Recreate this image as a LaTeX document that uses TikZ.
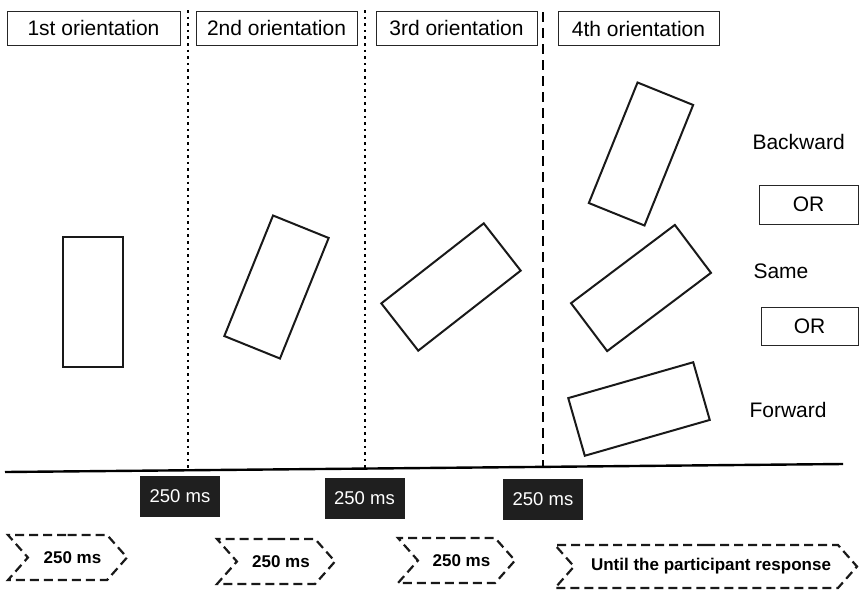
\documentclass[tikz,border=0pt]{standalone}
\usepackage{fontspec}
\setmainfont{Liberation Sans}
\usetikzlibrary{shapes.symbols}

\begin{document}
\begin{tikzpicture}[x=1pt,y=-1pt,
  orient/.style={draw=black!85,line width=1pt,minimum width=161,minimum height=34,inner sep=0pt,font=\fontsize{21}{24}\selectfont},
  stim/.style={draw=black!90,line width=2pt,minimum width=60,minimum height=130,inner sep=0pt},
  blackms/.style={fill=black!88,text=white,minimum width=80,minimum height=41,inner sep=0pt,font=\fontsize{18.5}{22}\selectfont},
  chev/.style={signal,signal from=west,signal to=east,signal pointer angle=97,draw=black!90,line width=2.2pt,dash pattern=on 9pt off 5pt,minimum height=45,inner sep=0pt,font=\fontsize{17}{20}\selectfont\bfseries},
  choice/.style={anchor=west,font=\fontsize{21}{24}\selectfont}]
  \useasboundingbox (0,0) rectangle (859,590);
  % orientation headers
  \node[orient,minimum width=173] (o1) at (93.5,28) {1st orientation};
  \node[orient] (o2) at (276.5,28) {2nd orientation};
  \node[orient] (o3) at (456.5,28) {3rd orientation};
  \node[orient] (o4) at (638.5,28.5) {4th orientation};
  % separators and time line
  \coordinate (t1) at (188,10);  \coordinate (b1) at (188,470);
  \coordinate (t2) at (365,10);  \coordinate (b2) at (365,468.5);
  \coordinate (t3) at (543,12);  \coordinate (b3) at (543,467);
  \draw[line width=2.6pt,dash pattern=on 2.6pt off 4pt] (t1) -- (b1);
  \draw[line width=2.6pt,dash pattern=on 2.6pt off 4pt] (t2) -- (b2);
  \draw[line width=2.2pt,dash pattern=on 10pt off 6pt] (t3) -- (b3);
  \coordinate (tl) at (5,472);
  \coordinate (tr) at (843,464);
  \draw[line width=2.4pt] (tl) -- (tr);
  % stimuli
  \node[stim] (s1) at (93,302) {};
  \node[stim,rotate=-22] (s2) at (276.5,287) {};
  \node[stim,rotate=-52] (s3) at (451,287) {};
  \node[stim,rotate=-22] (back) at (641,154) {};
  \node[stim,rotate=-53] (same) at (641,288) {};
  \node[stim,rotate=-74] (fwd) at (639,409) {};
  % answers
  \node[choice] (lback) at (749,142) {Backward};
  \node[orient,minimum width=99,minimum height=39] (or1) at (808.5,204.5) {OR};
  \node[choice] (lsame) at (750,271) {Same};
  \node[orient,minimum width=97,minimum height=38] (or2) at (809.5,326) {OR};
  \node[choice] (lfwd) at (746,410) {Forward};
  % blank intervals
  \node[blackms] (d1) at (180,496.5) {250 ms};
  \node[blackms] (d2) at (364.5,498.5) {250 ms};
  \node[blackms] (d3) at (543,499) {250 ms};
  % durations
  \node[chev,minimum width=119] (c1) at (67.5,557.5) {\hspace{10pt}250 ms};
  \node[chev,minimum width=118] (c2) at (276,561.5) {\hspace{10pt}250 ms};
  \node[chev,minimum width=117] (c3) at (456.5,560.5) {\hspace{10pt}250 ms};
  \node[chev,minimum width=302,minimum height=43] (c4) at (706,566.5) {\hspace{10pt}Until the participant response};
\end{tikzpicture}
\end{document}
